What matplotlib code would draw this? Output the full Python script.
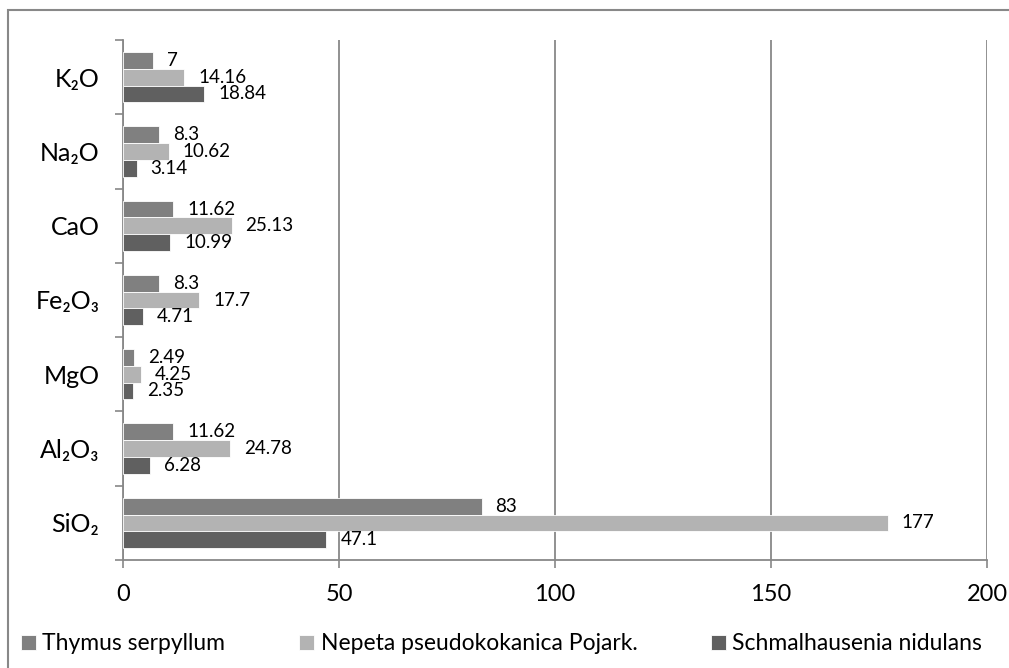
import matplotlib
matplotlib.use("Agg")
import matplotlib.pyplot as plt
import numpy as np
from matplotlib.patches import Rectangle

plt.rcParams['font.family'] = ['Lato', 'DejaVu Sans']

categories = ["SiO₂", "Al₂O₃", "MgO", "Fe₂O₃", "CaO", "Na₂O", "K₂O"]
thymus = [83, 11.62, 2.49, 8.3, 11.62, 8.3, 7]
nepeta = [177, 24.78, 4.25, 17.7, 25.13, 10.62, 14.16]
schmal = [47.1, 6.28, 2.35, 4.71, 10.99, 3.14, 18.84]
series_names = ["Thymus serpyllum", "Nepeta pseudokokanica Pojark.", "Schmalhausenia nidulans"]
colors = ["#808080", "#b3b3b3", "#606060"]
xticks = [0, 50, 100, 150, 200]

W, H = 1009, 668
fig = plt.figure(figsize=(W / 100, H / 100), dpi=100)
ax = fig.add_axes([123 / W, 1 - 560 / H, (987 - 123) / W, (560 - 40) / H])

y = np.arange(len(categories))
bh = 0.225
offsets = [bh, 0, -bh]
handles = []
for vals, off, c, name in zip([thymus, nepeta, schmal], offsets, colors, series_names):
    b = ax.barh(y + off, vals, height=bh, color=c, edgecolor="white", linewidth=0.6, label=name, zorder=3)
    handles.append(b)
    for yi, v in zip(y, vals):
        ax.annotate(f"{v:g}", (v, yi + off), xytext=(10, 0), textcoords="offset points",
                    va="center", ha="left", fontsize=13.5, color="black", zorder=4)

ax.set_xlim(0, 200)
ax.set_ylim(-0.5, len(categories) - 0.5)
ax.set_xticks(xticks)
ax.set_xticklabels([str(t) for t in xticks], fontsize=17)
ax.set_yticks(y)
ax.set_yticklabels(categories, fontsize=18)
ax.set_yticks(np.arange(-0.5, len(categories), 1), minor=True)
ax.tick_params(axis="y", which="major", length=0, pad=17)
ax.tick_params(axis="y", which="minor", length=6, color="#888888", width=1.2)
ax.tick_params(axis="x", length=6, color="#888888", width=1.2, pad=11)
ax.xaxis.grid(True, color="#888888", linewidth=1.3, zorder=0)
for s in ["top", "right"]:
    ax.spines[s].set_visible(False)
for s in ["left", "bottom"]:
    ax.spines[s].set_color("#888888")
    ax.spines[s].set_linewidth(1.3)

leg = fig.legend(handles=handles, labels=series_names, loc="center",
                 bbox_to_anchor=(0.497, 1 - 644 / H), ncol=3, frameon=False,
                 fontsize=16.5, handlelength=0.65, handleheight=0.65, handletextpad=0.3,
                 columnspacing=3.2, borderaxespad=0)

fig.patches.append(Rectangle((8 / W, -0.1), 1.2, 1 - 10 / H + 0.1, transform=fig.transFigure,
                             fill=False, edgecolor="#888888", linewidth=1.5))

fig.savefig("out.png", dpi=100)
